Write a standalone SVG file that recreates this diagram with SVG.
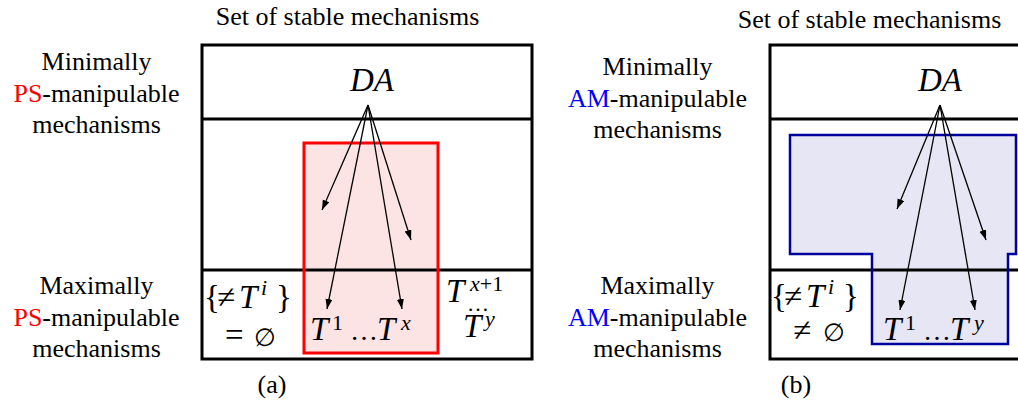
<svg xmlns="http://www.w3.org/2000/svg" width="1018" height="402" viewBox="0 0 1018 402">
<style>
.t{font-family:"Liberation Serif","DejaVu Serif",serif;font-size:26px;fill:#000}
.c{text-anchor:middle}
.m{font-family:"Liberation Serif","DejaVu Serif",serif;font-size:33px;fill:#000}
.i{font-style:italic}
.s{font-size:22px}
.e{font-family:"DejaVu Serif",serif;font-size:25px}
.box{fill:none;stroke:#000;stroke-width:3}
.arr{stroke:#000;stroke-width:1.3;fill:none;marker-end:url(#ah)}
</style>
<defs>
<marker id="ah" markerUnits="userSpaceOnUse" markerWidth="11" markerHeight="8" refX="10" refY="3.5" orient="auto">
<path d="M0,0 L10,3.5 L0,7 z" fill="#000"/>
</marker>
</defs>
<rect width="1018" height="402" fill="#fff"/>

<g id="panel-a">
<text class="t c" x="347.5" y="25">Set of stable mechanisms</text>
<rect x="304" y="143" width="134" height="210" fill="#fde4e4"/>
<rect class="box" x="202" y="45" width="330" height="314"/>
<line class="box" x1="202" y1="119" x2="532" y2="119"/>
<line class="box" x1="202" y1="270" x2="532" y2="270"/>
<rect x="304" y="143" width="134" height="210" fill="none" stroke="#ff0000" stroke-width="3"/>
<text class="t c" x="96.5" y="70">Minimally</text>
<text class="t c" x="96.5" y="101.5"><tspan fill="#ff0000">PS</tspan>-manipulable</text>
<text class="t c" x="96.5" y="133">mechanisms</text>
<text class="t c" x="96.5" y="294">Maximally</text>
<text class="t c" x="96.5" y="325.5"><tspan fill="#ff0000">PS</tspan>-manipulable</text>
<text class="t c" x="96.5" y="357">mechanisms</text>
<text class="m i" x="350" y="91" font-size="29">DA</text>
<text class="m"><tspan x="204" y="308">{</tspan><tspan x="217" y="308">≠</tspan><tspan class="i" x="239" y="308">T</tspan><tspan class="i s" x="261" y="295">i</tspan><tspan x="276" y="308">}</tspan></text>
<text class="m"><tspan x="225" y="346">=</tspan><tspan class="e" x="254" y="346">∅</tspan></text>
<text class="m"><tspan class="i" x="310" y="340">T</tspan><tspan class="s" x="332" y="330">1</tspan><tspan x="350" y="340" font-size="28">…</tspan><tspan class="i" x="377" y="340">T</tspan><tspan class="i s" x="401" y="330">x</tspan></text>
<text class="m"><tspan class="i" x="446" y="302">T</tspan><tspan class="s" x="470" y="291"><tspan class="i">x</tspan>+1</tspan><tspan x="467" y="311" font-size="22">…</tspan><tspan class="i" x="463" y="337">T</tspan><tspan class="i s" x="485" y="326">y</tspan></text>
<text class="t c" x="272" y="393">(a)</text>
</g>

<g id="panel-b">
<text class="t c" x="869.5" y="28">Set of stable mechanisms</text>
<path d="M790,135 H1016 V254 H1008 V344 H872 V254 H790 Z" fill="#e6e6f4"/>
<rect class="box" x="770" y="45" width="270" height="314"/>
<line class="box" x1="770" y1="119" x2="1040" y2="119"/>
<line class="box" x1="770" y1="270" x2="1040" y2="270"/>
<path d="M790,135 H1016 V254 H1008 V344 H872 V254 H790 Z" fill="none" stroke="#00009c" stroke-width="2.5"/>
<text class="t c" x="657.5" y="75">Minimally</text>
<text class="t c" x="657.5" y="106.5"><tspan fill="#0000ff">AM</tspan>-manipulable</text>
<text class="t c" x="657.5" y="138">mechanisms</text>
<text class="t c" x="657.5" y="294">Maximally</text>
<text class="t c" x="657.5" y="326"><tspan fill="#0000ff">AM</tspan>-manipulable</text>
<text class="t c" x="657.5" y="357">mechanisms</text>
<text class="m i" x="918" y="91" font-size="29">DA</text>
<text class="m"><tspan x="771" y="307">{</tspan><tspan x="784" y="307">≠</tspan><tspan class="i" x="806" y="307">T</tspan><tspan class="i s" x="828" y="294">i</tspan><tspan x="843" y="307">}</tspan></text>
<text class="m"><tspan x="793" y="341">≠</tspan><tspan class="e" x="823" y="341">∅</tspan></text>
<text class="m"><tspan class="i" x="883" y="340">T</tspan><tspan class="s" x="905" y="330">1</tspan><tspan x="923" y="340" font-size="28">…</tspan><tspan class="i" x="950" y="340">T</tspan><tspan class="i s" x="974" y="330">y</tspan></text>
<text class="t c" x="796" y="393">(b)</text>
</g>

<g id="connectors">
<line class="arr" x1="368" y1="105" x2="322" y2="210"/>
<line class="arr" x1="368" y1="105" x2="411" y2="240"/>
<line class="arr" x1="368" y1="105" x2="327" y2="309"/>
<line class="arr" x1="368" y1="105" x2="402" y2="309"/>
<line class="arr" x1="940" y1="105" x2="897" y2="209"/>
<line class="arr" x1="940" y1="105" x2="986" y2="240"/>
<line class="arr" x1="940" y1="105" x2="900" y2="310"/>
<line class="arr" x1="940" y1="105" x2="975" y2="310"/>
</g>
</svg>
